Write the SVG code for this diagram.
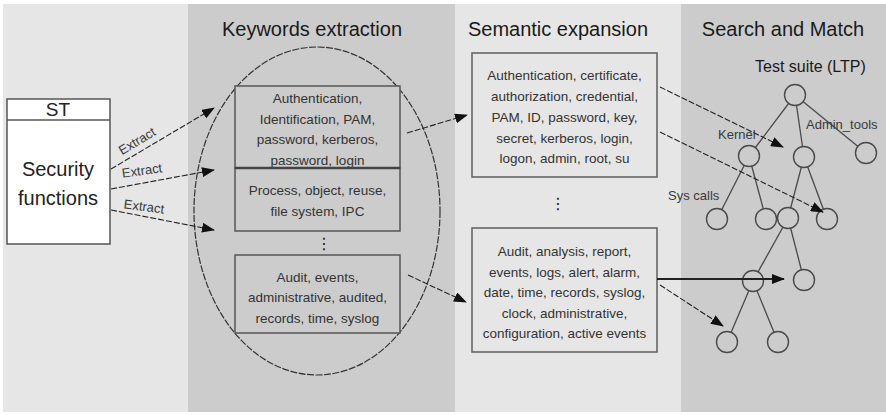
<svg xmlns="http://www.w3.org/2000/svg" width="886" height="415" viewBox="0 0 886 415">
  <defs>
    <marker id="arrowhead" markerUnits="userSpaceOnUse" markerWidth="13" markerHeight="10" refX="12" refY="5" orient="auto">
      <path d="M0,0 L13,5 L0,10 z" fill="#111"/>
    </marker>
    <style>
      .band-light { fill: #e6e6e6; }
      .band-dark { fill: #cccccc; }
      .heading { font-family: "Liberation Sans", Arial, sans-serif; font-size: 20px; fill: #1a1a1a; text-anchor: middle; }
      .box-kw { fill: #cccccc; stroke: #555; stroke-width: 1.5; }
      .box-sem { fill: #e6e6e6; stroke: #666; stroke-width: 1.6; }
      .txt { font-family: "Liberation Sans", Arial, sans-serif; font-size: 13.5px; fill: #333; text-anchor: middle; }
      .lbl { font-family: "Liberation Sans", Arial, sans-serif; font-size: 13px; fill: #3a3a3a; }
      .dots { font-family: "DejaVu Sans", sans-serif; font-size: 16px; fill: #222; text-anchor: middle; }
      .edge { stroke: #4a4a4a; stroke-width: 1.3; }
      .tnode { fill: #cccccc; stroke: #4a4a4a; stroke-width: 1.4; }
      .conn { fill: none; stroke: #222; stroke-width: 1.1; stroke-dasharray: 6 2; marker-end: url(#arrowhead); }
      .conn-solid { fill: none; stroke: #222; stroke-width: 1.8; marker-end: url(#arrowhead); }
    </style>
  </defs>

  <!-- page and stage bands -->
  <rect x="0" y="0" width="886" height="415" fill="#ffffff"/>
  <rect class="band-light" x="3" y="4" width="185" height="408"/>
  <rect class="band-dark" x="188" y="4" width="267" height="408"/>
  <rect class="band-light" x="455" y="4" width="226" height="408"/>
  <rect class="band-dark" x="681" y="4" width="205" height="408"/>

  <!-- stage headings -->
  <text class="heading" x="312" y="36">Keywords extraction</text>
  <text class="heading" x="558" y="36">Semantic expansion</text>
  <text class="heading" x="783" y="36">Search and Match</text>

  <!-- security target -->
  <g id="st">
    <rect x="7" y="99" width="103" height="145" fill="#ffffff" stroke="#555" stroke-width="1.5"/>
    <line x1="7" y1="120" x2="110" y2="120" stroke="#555" stroke-width="1.5"/>
    <text x="58" y="116" font-family="Liberation Sans, Arial, sans-serif" font-size="19" fill="#222" text-anchor="middle">ST</text>
    <text x="58" y="176" font-family="Liberation Sans, Arial, sans-serif" font-size="20" fill="#222" text-anchor="middle">Security</text>
    <text x="58" y="205" font-family="Liberation Sans, Arial, sans-serif" font-size="20" fill="#222" text-anchor="middle">functions</text>
  </g>

  <!-- keyword extraction cluster -->
  <g id="keyword-set">
    <ellipse cx="317" cy="211" rx="123" ry="164" fill="none" stroke="#333" stroke-width="1.2" stroke-dasharray="7 1.5"/>
  </g>

  <g id="kw-auth">
    <rect class="box-kw" x="235" y="86" width="165" height="82"/>
    <text class="txt" x="317.5" y="103">Authentication,</text>
    <text class="txt" x="317.5" y="123.5">Identification, PAM,</text>
    <text class="txt" x="317.5" y="144">password, kerberos,</text>
    <text class="txt" x="317.5" y="164.5">password, login</text>
  </g>

  <g id="kw-process">
    <rect class="box-kw" x="235" y="168" width="165" height="63"/>
    <line x1="235" y1="168" x2="400" y2="168" stroke="#444" stroke-width="2.5"/>
    <text class="txt" x="317.5" y="195">Process, object, reuse,</text>
    <text class="txt" x="317.5" y="216">file system, IPC</text>
  </g>

  <text class="dots" x="324" y="249">⋮</text>

  <g id="kw-audit">
    <rect class="box-kw" x="235" y="255" width="165" height="78"/>
    <text class="txt" x="317.5" y="282">Audit, events,</text>
    <text class="txt" x="317.5" y="302">administrative, audited,</text>
    <text class="txt" x="317.5" y="322.5">records, time, syslog</text>
  </g>

  <!-- semantic expansion -->
  <g id="sem-auth">
    <rect class="box-sem" x="472" y="53" width="185" height="124"/>
    <text class="txt" x="564.5" y="80">Authentication, certificate,</text>
    <text class="txt" x="564.5" y="101">authorization, credential,</text>
    <text class="txt" x="564.5" y="122">PAM, ID, password, key,</text>
    <text class="txt" x="564.5" y="143">secret, kerberos, login,</text>
    <text class="txt" x="564.5" y="163">logon, admin, root, su</text>
  </g>

  <text class="dots" x="558" y="209">⋮</text>

  <g id="sem-audit">
    <rect class="box-sem" x="472" y="228" width="185" height="124"/>
    <text class="txt" x="564.5" y="256">Audit, analysis, report,</text>
    <text class="txt" x="564.5" y="276.5">events, logs, alert, alarm,</text>
    <text class="txt" x="564.5" y="297">date, time, records, syslog,</text>
    <text class="txt" x="564.5" y="317.5">clock, administrative,</text>
    <text class="txt" x="564.5" y="338">configuration, active events</text>
  </g>

  <!-- test suite tree -->
  <g id="test-suite">
    <text x="755" y="72" font-family="Liberation Sans, Arial, sans-serif" font-size="16" fill="#1a1a1a">Test suite (LTP)</text>
    <g id="tree-edges">
      <line class="edge" x1="795" y1="95" x2="749" y2="156"/>
      <line class="edge" x1="795" y1="95" x2="804" y2="157"/>
      <line class="edge" x1="795" y1="95" x2="866" y2="153"/>
      <line class="edge" x1="749" y1="156" x2="717" y2="219"/>
      <line class="edge" x1="749" y1="156" x2="766" y2="219"/>
      <line class="edge" x1="804" y1="157" x2="788" y2="218"/>
      <line class="edge" x1="804" y1="157" x2="827" y2="219"/>
      <line class="edge" x1="788" y1="218" x2="753" y2="281"/>
      <line class="edge" x1="788" y1="218" x2="804" y2="280"/>
      <line class="edge" x1="753" y1="281" x2="727" y2="342"/>
      <line class="edge" x1="753" y1="281" x2="778" y2="342"/>
    </g>
    <g id="tree-nodes">
      <circle class="tnode" cx="795" cy="95" r="10.5"/>
      <circle class="tnode" cx="749" cy="156" r="10.5"/>
      <circle class="tnode" cx="804" cy="157" r="10.5"/>
      <circle class="tnode" cx="866" cy="153" r="10.5"/>
      <circle class="tnode" cx="717" cy="219" r="10.5"/>
      <circle class="tnode" cx="766" cy="219" r="10.5"/>
      <circle class="tnode" cx="788" cy="218" r="10.5"/>
      <circle class="tnode" cx="827" cy="219" r="10.5"/>
      <circle class="tnode" cx="753" cy="281" r="10.5"/>
      <circle class="tnode" cx="804" cy="280" r="10.5"/>
      <circle class="tnode" cx="727" cy="342" r="10.5"/>
      <circle class="tnode" cx="778" cy="342" r="10.5"/>
    </g>
    <text class="lbl" x="718" y="139">Kernel</text>
    <text class="lbl" x="806" y="129">Admin_tools</text>
    <text class="lbl" x="668" y="200">Sys calls</text>
  </g>

  <!-- connectors -->
  <g id="connectors">
    <line class="conn" x1="111" y1="169" x2="214" y2="108"/>
    <line class="conn" x1="111" y1="189" x2="214" y2="170"/>
    <line class="conn" x1="111" y1="210" x2="214" y2="230"/>
    <line class="conn" x1="407" y1="133" x2="467" y2="115"/>
    <line class="conn" x1="408" y1="275" x2="466" y2="302"/>
    <line class="conn" x1="660" y1="87" x2="783" y2="147"/>
    <line class="conn" x1="660" y1="132" x2="823" y2="212"/>
    <line class="conn-solid" x1="657" y1="279" x2="784" y2="279"/>
    <line class="conn" x1="660" y1="285" x2="723" y2="326"/>
    <g class="lbl">
      <text transform="translate(137,141) rotate(-31)" x="0" y="4.5" text-anchor="middle">Extract</text>
      <text transform="translate(142,170.5) rotate(-8)" x="0" y="4.5" text-anchor="middle">Extract</text>
      <text transform="translate(144,206.5) rotate(7.5)" x="0" y="4.5" text-anchor="middle">Extract</text>
    </g>
  </g>
</svg>
